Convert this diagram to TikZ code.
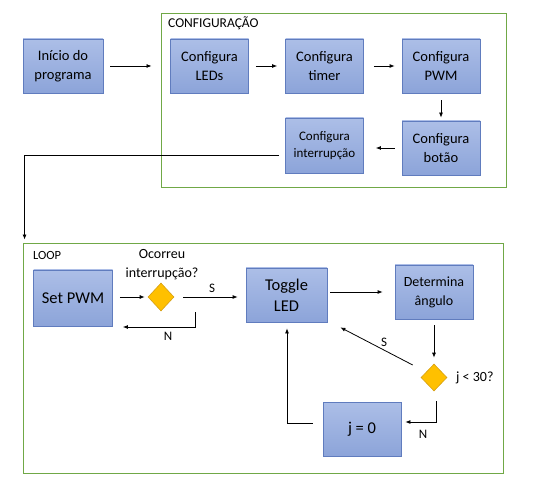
\documentclass[tikz,border=0pt]{standalone}
\usepackage{fontspec}
\setmainfont{Carlito}
\usetikzlibrary{arrows.meta,calc,shapes.geometric}
\definecolor{boxtop}{RGB}{172,190,231}
\definecolor{boxbot}{RGB}{140,164,217}
\definecolor{boxline}{RGB}{96,124,190}
\definecolor{decfill}{RGB}{255,192,0}
\definecolor{decline}{RGB}{214,160,20}
\definecolor{framecolor}{RGB}{112,168,70}
\newcommand{\boxw}{78pt}
\newcommand{\boxh}{54pt}

\begin{document}
\begin{tikzpicture}[x=1pt,y=-1pt,
  stepbox/.style={rectangle,draw=boxline,line width=0.8pt,top color=boxtop,bottom color=boxbot,
    minimum width=\boxw,minimum height=\boxh,align=center,inner sep=1pt,
    font=\fontsize{14.5}{18.5}\selectfont},
  decision/.style={diamond,draw=decline,fill=decfill,line width=0.6pt,
    minimum width=26pt,minimum height=28pt,inner sep=0pt},
  frame/.style={rectangle,draw=framecolor,line width=0.9pt,inner sep=0pt},
  arr/.style={-{Latex[length=5pt,width=4pt]},line width=0.8pt},
  lbl/.style={font=\fontsize{13}{16}\selectfont,inner sep=0pt}]
\useasboundingbox (0,0) rectangle (541,489);
% grupos
\node[frame,minimum width=345pt,minimum height=174pt] (cfg) at (333.5,100) {};
\node[frame,minimum width=480pt,minimum height=230pt] (loop) at (263,358) {};
\node[lbl,anchor=west,font=\fontsize{13.5}{16}\selectfont] (cfgname) at (168,23) {CONFIGURAÇÃO};
\node[lbl,anchor=west,font=\fontsize{12.5}{15}\selectfont] (loopname) at (33,255) {LOOP};
% configuracao
\node[stepbox,minimum width=80pt] (inicio) at (63,66) {Início do\\programa};
\node[stepbox] (leds) at (209.5,66) {Configura\\LEDs};
\node[stepbox] (timer) at (324.5,66) {Configura\\timer};
\node[stepbox] (pwm) at (441,66) {Configura\\PWM};
\node[stepbox] (botao) at (441,148) {Configura\\botão};
\node[stepbox,minimum height=55pt,font=\fontsize{13}{16.5}\selectfont] (interrup) at (324.5,145.5) {Configura\\interrupção};
\draw[arr,shorten <=7pt,shorten >=9pt] (inicio) -- (cfg.west |- inicio);
\draw[arr,shorten <=7pt,shorten >=8pt] (leds) -- (timer);
\draw[arr,shorten <=10pt,shorten >=7pt] (timer) -- (pwm);
\draw[arr,shorten <=7pt,shorten >=3pt] (pwm) -- (botao);
\draw[arr,shorten <=7pt,shorten >=12pt] (botao.west) -- (botao.west -| interrup.east);
\draw[arr] ($(interrup.west)+(-6,9.5)$) -| ($(loop.north west)+(2,-3)$);
% loop
\node[stepbox,minimum width=79pt,minimum height=56pt,font=\fontsize{16.5}{20}\selectfont] (setpwm) at (73,298) {Set PWM};
\node[decision] (dec1) at (161,297) {};
\node[lbl,align=center,font=\fontsize{14}{19}\selectfont] (dec1txt) at (162,265) {Ocorreu\\interrupção?};
\node[stepbox,minimum width=81pt,font=\fontsize{16.5}{21}\selectfont] (toggle) at (286.5,295) {Toggle\\LED};
\node[stepbox,font=\fontsize{14}{19}\selectfont] (angulo) at (434,292) {Determina\\ângulo};
\node[decision,minimum height=27pt] (dec2) at (434,377.5) {};
\node[lbl,anchor=west,font=\fontsize{14}{17}\selectfont] (dec2txt) at (456,378) {j < 30?};
\node[stepbox,font=\fontsize{16.5}{20}\selectfont] (jzero) at (362,429) {j = 0};
\draw[arr,shorten <=7pt,shorten >=3pt] (setpwm.east |- dec1) -- (dec1);
\draw[arr,shorten <=9pt,shorten >=8pt] (dec1) -- (toggle.west |- dec1);
\node[lbl] (s1) at (212,288) {S};
\draw[arr] ($(dec1.south)+(34,1)$) |- ($(setpwm.east)+(10,29)$);
\node[lbl] (n1) at (168,336) {N};
\draw[arr,shorten <=3pt,shorten >=12pt] (toggle.east |- angulo) -- (angulo);
\draw[arr,shorten <=6pt,shorten >=6pt] (angulo) -- (dec2);
\draw[arr] ($(dec2.west)+(-8,-12.5)$) -- ($(toggle.south east)+(13,5)$);
\node[lbl] (s2) at (384,342) {S};
\draw[arr] ($(dec2.south)+(2,10)$) |- ($(jzero.east)+(4,-7)$);
\node[lbl] (n2) at (423,434) {N};
\draw[arr] ($(jzero.west)+(-10,-6)$) -| ($(toggle.south)+(0.5,6)$);
\end{tikzpicture}
\end{document}
